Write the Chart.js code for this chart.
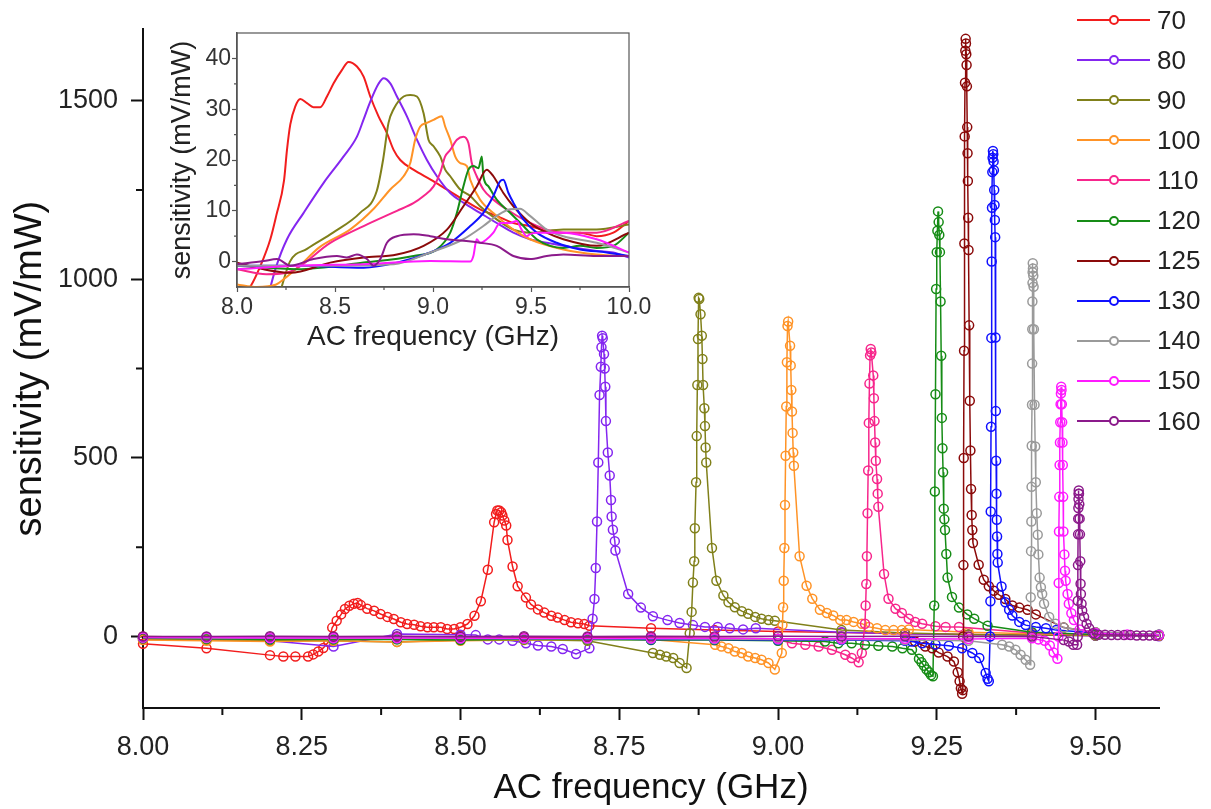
<!DOCTYPE html>
<html>
<head>
<meta charset="utf-8">
<script src="https://cdn.jsdelivr.net/npm/chart.js@4.4.0/dist/chart.umd.min.js"></script>
<style>
  body { margin: 0; background: #fff; }
  #wrap { position: relative; width: 1211px; height: 809px; font-family: "Liberation Sans", Arial, sans-serif; }
  #mainBox { position: absolute; left: 0; top: 0; width: 1211px; height: 809px; }
  #insetBox { position: absolute; left: 150px; top: 10px; width: 530px; height: 360px; }
  #legend { position: absolute; left: 1077px; top: 0; width: 134px; height: 450px; }
  .item { position: absolute; left: 0; height: 26px; display: flex; align-items: center; white-space: nowrap; }
  .swatch { position: relative; display: inline-block; width: 73px; height: 2px; }
  .swatch i { position: absolute; left: 32px; top: -4px; width: 6px; height: 6px; border: 2px solid; border-radius: 50%; background: #fff; }
  .txt { margin-left: 7px; font-size: 26px; color: #222; }
</style>
</head>
<body>
<div id="wrap">
  <div id="mainBox"><canvas id="main"></canvas></div>
  <div id="insetBox"><canvas id="inset"></canvas></div>
  <div id="legend"></div>
</div>
<script>
// series names (legend) and colours
const seriesNames = ["70", "80", "90", "100", "110", "120", "125", "130", "140", "150", "160"];
const seriesColors = ["#f21d1d", "#8426f0", "#80801a", "#ff9326", "#f7268c", "#168c16", "#8b0a0a", "#1010ff", "#9a9a9a", "#ff1aff", "#8b1a8b"];

// tick values
const mainXTicks = [8.0, 8.25, 8.5, 8.75, 9.0, 9.25, 9.5];
const mainXMinor = [8.125, 8.375, 8.625, 8.875, 9.125, 9.375];
const mainYTicks = [0, 500, 1000, 1500];
const mainYMinor = [250, 750, 1250];
const insetXTicks = [8.0, 8.5, 9.0, 9.5, 10.0];
const insetXMinor = [8.25, 8.75, 9.25, 9.75];
const insetYTicks = [0, 10, 20, 30, 40];
const insetYMinor = [5, 15, 25, 35];

// main plot: frequency (GHz) / sensitivity (mV/mW)
const f70 = [8.0, 8.1, 8.2, 8.221, 8.24, 8.26, 8.268, 8.276, 8.284, 8.292, 8.298, 8.305, 8.312, 8.318, 8.325, 8.332, 8.338, 8.343, 8.353, 8.364, 8.374, 8.385, 8.395, 8.406, 8.416, 8.427, 8.437, 8.448, 8.458, 8.469, 8.479, 8.49, 8.5, 8.511, 8.522, 8.532, 8.543, 8.553, 8.556, 8.558, 8.561, 8.564, 8.566, 8.569, 8.572, 8.574, 8.582, 8.59, 8.603, 8.611, 8.622, 8.632, 8.643, 8.653, 8.664, 8.674, 8.685, 8.695, 8.703, 8.8, 8.9, 9.0, 9.1, 9.2, 9.3, 9.4, 9.5, 9.6];
const s70 = [-20, -33, -52, -56, -56, -56, -50, -42, -32, -15, 25, 44, 62, 77, 86, 92, 94, 88, 78, 72, 63, 55, 49, 40, 35, 33, 29, 26, 26, 26, 21, 21, 26, 35, 58, 99, 187, 320, 343, 353, 353, 348, 339, 325, 311, 270, 196, 141, 109, 90, 76, 67, 58, 53, 46, 40, 37, 35, 30, 23, 18, 14, 11, 8, 6, 4, 3, 2];

const f80 = [8.0, 8.1, 8.2, 8.3, 8.4, 8.5, 8.524, 8.543, 8.561, 8.582, 8.603, 8.622, 8.643, 8.661, 8.682, 8.703, 8.708, 8.711, 8.713, 8.715, 8.717, 8.719, 8.721, 8.722, 8.723, 8.724, 8.726, 8.727, 8.728, 8.729, 8.732, 8.735, 8.737, 8.738, 8.74, 8.743, 8.744, 8.764, 8.784, 8.803, 8.826, 8.845, 8.866, 8.885, 8.905, 8.924, 8.945, 8.965, 9.1, 9.2, 9.3, 9.4, 9.5, 9.6];
const s80 = [-5, -8, -12, -28, 7, 5, 4, -8, -8, -12, -19, -25, -28, -35, -49, -33, 50, 105, 192, 322, 487, 676, 755, 810, 842, 835, 791, 750, 699, 603, 515, 451, 382, 336, 299, 267, 241, 119, 81, 57, 46, 38, 32, 27, 27, 23, 20, 23, 12, 8, 5, 4, 2, 1];

const f90 = [8.0, 8.1, 8.2, 8.3, 8.4, 8.5, 8.6, 8.7, 8.803, 8.814, 8.824, 8.835, 8.845, 8.856, 8.861, 8.864, 8.866, 8.868, 8.869, 8.871, 8.872, 8.873, 8.874, 8.875, 8.876, 8.878, 8.88, 8.881, 8.882, 8.884, 8.885, 8.886, 8.887, 8.896, 8.903, 8.914, 8.922, 8.932, 8.943, 8.953, 8.964, 8.974, 8.985, 8.995, 9.1, 9.2, 9.3, 9.4, 9.5, 9.6];
const s90 = [-8, -10, -12, -12, -15, -10, -8, -12, -46, -51, -56, -60, -74, -88, 9, 69, 151, 211, 303, 432, 561, 704, 833, 948, 945, 902, 842, 777, 704, 639, 589, 529, 487, 248, 156, 115, 96, 82, 71, 64, 55, 50, 46, 44, 18, 10, 6, 4, 3, 2];

const f100 = [8.0, 8.1, 8.2, 8.3, 8.4, 8.5, 8.6, 8.7, 8.8, 8.901, 8.911, 8.922, 8.932, 8.943, 8.953, 8.964, 8.974, 8.985, 8.995, 9.006, 9.007, 9.008, 9.009, 9.01, 9.011, 9.012, 9.013, 9.014, 9.015, 9.016, 9.019, 9.02, 9.021, 9.022, 9.023, 9.024, 9.025, 9.034, 9.045, 9.054, 9.066, 9.077, 9.087, 9.098, 9.108, 9.119, 9.132, 9.143, 9.156, 9.169, 9.182, 9.195, 9.206, 9.3, 9.4, 9.5, 9.6];
const s100 = [-10, -12, -14, -12, -15, -12, -10, -8, -8, -23, -28, -33, -42, -46, -56, -60, -65, -74, -92, -46, 32, 82, 156, 248, 368, 506, 644, 768, 869, 882, 814, 759, 690, 630, 570, 515, 478, 225, 142, 106, 75, 66, 59, 46, 46, 41, 36, 27, 23, 18, 18, 18, 20, 12, 8, 5, 3];

const f110 = [8.0, 8.1, 8.2, 8.3, 8.4, 8.5, 8.6, 8.7, 8.8, 8.9, 9.0, 9.022, 9.043, 9.064, 9.085, 9.106, 9.116, 9.127, 9.132, 9.137, 9.138, 9.139, 9.14, 9.141, 9.142, 9.143, 9.144, 9.145, 9.146, 9.147, 9.15, 9.151, 9.152, 9.153, 9.154, 9.156, 9.157, 9.158, 9.167, 9.174, 9.185, 9.195, 9.206, 9.216, 9.227, 9.248, 9.264, 9.285, 9.4, 9.5, 9.6];
const s110 = [-5, -5, -6, -5, -6, -5, -5, -4, -5, -6, -8, -19, -23, -28, -37, -51, -60, -72, -46, 36, 87, 147, 225, 345, 465, 598, 708, 787, 805, 795, 731, 667, 603, 543, 492, 441, 400, 363, 175, 106, 78, 66, 50, 41, 36, 29, 27, 27, 10, 6, 4];

const f120 = [8.0, 8.1, 8.2, 8.3, 8.4, 8.5, 8.6, 8.7, 8.8, 8.9, 9.0, 9.074, 9.095, 9.116, 9.137, 9.158, 9.18, 9.196, 9.211, 9.222, 9.226, 9.23, 9.234, 9.238, 9.241, 9.244, 9.246, 9.247, 9.248, 9.249, 9.25, 9.251, 9.252, 9.253, 9.254, 9.255, 9.256, 9.257, 9.258, 9.259, 9.26, 9.261, 9.262, 9.263, 9.265, 9.267, 9.274, 9.285, 9.298, 9.309, 9.33, 9.4, 9.5, 9.6];
const s120 = [-5, -6, -8, -8, -8, -10, -8, -8, -10, -10, -12, -14, -19, -19, -23, -26, -28, -33, -37, -62, -72, -82, -92, -100, -108, -111, 87, 406, 678, 973, 1076, 1136, 1190, 1160, 1124, 1076, 938, 786, 612, 527, 460, 358, 328, 298, 231, 165, 111, 81, 62, 50, 30, 12, 6, 4];

const f125 = [8.0, 8.1, 8.2, 8.3, 8.4, 8.5, 8.6, 8.7, 8.8, 8.9, 9.0, 9.1, 9.2, 9.216, 9.232, 9.243, 9.253, 9.267, 9.277, 9.283, 9.286, 9.288, 9.29, 9.291, 9.2915, 9.292, 9.2925, 9.293, 9.2935, 9.294, 9.2945, 9.295, 9.2955, 9.296, 9.2965, 9.297, 9.2975, 9.298, 9.2985, 9.299, 9.2995, 9.3, 9.301, 9.302, 9.303, 9.304, 9.305, 9.306, 9.307, 9.316, 9.324, 9.332, 9.34, 9.348, 9.358, 9.369, 9.38, 9.393, 9.406, 9.45, 9.5, 9.6];
const s125 = [0, -2, -3, -2, -3, -2, -3, -3, -4, -5, -6, -8, -10, -14, -28, -33, -45, -56, -70, -100, -125, -145, -160, -150, 0, 200, 500, 800, 1100, 1400, 1550, 1640, 1673, 1660, 1630, 1600, 1540, 1426, 1353, 1275, 1172, 1082, 871, 660, 521, 413, 340, 298, 262, 201, 159, 141, 128, 117, 105, 87, 81, 75, 62, 25, 12, 5];

const f130 = [8.0, 8.1, 8.2, 8.3, 8.4, 8.5, 8.6, 8.7, 8.8, 8.9, 9.0, 9.1, 9.2, 9.211, 9.227, 9.248, 9.269, 9.29, 9.306, 9.317, 9.327, 9.33, 9.332, 9.334, 9.3345, 9.335, 9.3355, 9.336, 9.3365, 9.337, 9.3375, 9.338, 9.3385, 9.339, 9.3395, 9.34, 9.3405, 9.341, 9.3415, 9.342, 9.3425, 9.343, 9.3435, 9.344, 9.3445, 9.345, 9.3455, 9.346, 9.352, 9.358, 9.364, 9.369, 9.38, 9.39, 9.406, 9.422, 9.438, 9.5, 9.6];
const s130 = [-3, -3, -5, -5, -5, -5, -6, -6, -8, -8, -10, -10, -12, -14, -19, -22, -26, -33, -46, -60, -102, -118, -125, 0, 99, 350, 587, 836, 1050, 1200, 1300, 1340, 1359, 1350, 1330, 1305, 1250, 1208, 1166, 1118, 837, 631, 492, 400, 327, 280, 231, 207, 140, 96, 75, 59, 41, 32, 27, 23, 18, 10, 5];

const f140 = [8.0, 8.1, 8.2, 8.3, 8.4, 8.5, 8.6, 8.7, 8.8, 8.9, 9.0, 9.1, 9.2, 9.3, 9.353, 9.364, 9.374, 9.382, 9.39, 9.397, 9.398, 9.3985, 9.399, 9.3993, 9.3996, 9.4, 9.4002, 9.4004, 9.4006, 9.4008, 9.401, 9.4012, 9.4015, 9.402, 9.4025, 9.403, 9.404, 9.405, 9.406, 9.4075, 9.409, 9.41, 9.412, 9.414, 9.416, 9.419, 9.427, 9.437, 9.45, 9.5, 9.6];
const s140 = [-3, -4, -4, -5, -5, -5, -6, -6, -6, -7, -8, -8, -10, -12, -23, -28, -37, -51, -65, -79, 110, 239, 322, 419, 534, 649, 764, 860, 938, 990, 1020, 1045, 1030, 1010, 979, 860, 649, 532, 432, 345, 285, 230, 165, 138, 119, 92, 55, 36, 25, 12, 6];

const f150 = [8.0, 8.1, 8.2, 8.3, 8.4, 8.5, 8.6, 8.7, 8.8, 8.9, 9.0, 9.1, 9.2, 9.3, 9.4, 9.41, 9.42, 9.428, 9.434, 9.44, 9.4415, 9.442, 9.4425, 9.443, 9.4435, 9.444, 9.4445, 9.445, 9.4455, 9.446, 9.4465, 9.447, 9.4475, 9.448, 9.4485, 9.449, 9.4495, 9.451, 9.452, 9.453, 9.456, 9.458, 9.462, 9.466, 9.475, 9.5, 9.55, 9.6];
const s150 = [-3, -3, -4, -4, -4, -5, -5, -5, -5, -5, -6, -6, -6, -7, -5, -8, -12, -25, -45, -62, 0, 150, 294, 391, 480, 543, 600, 650, 680, 699, 690, 650, 600, 543, 480, 391, 294, 230, 184, 156, 119, 92, 65, 46, 20, 10, 6, 4];

const f160 = [8.0, 8.1, 8.2, 8.3, 8.4, 8.5, 8.6, 8.7, 8.8, 8.9, 9.0, 9.1, 9.2, 9.3, 9.4, 9.45, 9.458, 9.465, 9.471, 9.472, 9.4722, 9.4724, 9.4726, 9.4728, 9.473, 9.4732, 9.4734, 9.4736, 9.474, 9.4745, 9.475, 9.4755, 9.476, 9.4765, 9.477, 9.478, 9.479, 9.482, 9.486, 9.49, 9.496, 9.505, 9.515, 9.525, 9.535, 9.545, 9.555, 9.565, 9.575, 9.585, 9.595];
const s160 = [0, 0, 1, 0, 1, 0, 1, 0, 1, 0, 1, 0, 1, 0, 0, -10, -14, -23, -23, 0, 100, 200, 286, 330, 360, 385, 400, 409, 400, 370, 330, 286, 211, 148, 119, 92, 73, 55, 36, 23, 9, 5, 5, 4, 4, 4, 4, 3, 3, 3, 2];

// inset: smoothed curves
const xi70 = [8.04, 8.07, 8.12, 8.17, 8.2, 8.24, 8.255, 8.272, 8.297, 8.323, 8.357, 8.39, 8.425, 8.459, 8.493, 8.535, 8.569, 8.612, 8.646, 8.68, 8.722, 8.765, 8.799, 8.833, 8.9, 8.99, 9.07, 9.155, 9.24, 9.325, 9.41, 9.495, 9.58, 9.665, 9.75, 9.835, 9.92, 10.0];
const yi70 = [-6, -4.8, -0.8, 4.4, 9, 16, 22, 27, 30.5, 32, 31.2, 30.4, 30.4, 32.5, 35.1, 37.7, 39.3, 38.4, 36.4, 32.5, 28.6, 25.3, 22, 20, 18.1, 16.1, 14.2, 12.2, 10.3, 9, 7.6, 7, 6, 5.7, 5.7, 5, 5.7, 8];
const xi80 = [8.15, 8.2, 8.255, 8.34, 8.442, 8.544, 8.612, 8.646, 8.68, 8.722, 8.748, 8.782, 8.816, 8.867, 8.918, 8.969, 9.02, 9.088, 9.155, 9.24, 9.325, 9.41, 9.495, 9.58, 9.665, 9.835, 9.92, 10.0];
const yi80 = [-8, -1, 4.4, 9.6, 15.5, 20.7, 24.6, 28, 31.5, 35, 36.1, 35.1, 32.5, 28.6, 24, 20, 16.8, 13.5, 11.6, 9.6, 7.6, 5.7, 4.4, 3.7, 3.1, 2.1, 1.8, 0.8];
const xi90 = [8.22, 8.27, 8.357, 8.49, 8.628, 8.713, 8.746, 8.773, 8.8, 8.85, 8.884, 8.918, 8.952, 8.977, 9.003, 9.037, 9.062, 9.088, 9.139, 9.19, 9.24, 9.325, 9.41, 9.495, 9.665, 9.835, 10.0];
const yi90 = [-6, 0, 2.5, 5.7, 9.6, 13.9, 20.2, 27.3, 30.1, 32.5, 32.8, 32.5, 29.2, 24, 22.7, 20.7, 18.1, 16.8, 14.2, 12.9, 10.9, 8.3, 6.3, 5.7, 6.3, 6.3, 7.3];
const xi100 = [8.0, 8.1, 8.2, 8.24, 8.32, 8.42, 8.58, 8.7, 8.782, 8.85, 8.884, 8.909, 8.935, 8.969, 9.003, 9.045, 9.062, 9.088, 9.113, 9.139, 9.173, 9.19, 9.24, 9.325, 9.41, 9.495, 9.665, 9.835, 10.0];
const yi100 = [-4.5, -5, -4.5, -3.4, -0.8, 2.8, 6.4, 10.5, 14.2, 16.8, 19.4, 24, 26.6, 27.3, 27.9, 28.6, 26.6, 24, 20.7, 19.4, 18.8, 16.1, 12.2, 9, 6.3, 4.4, 2.4, 1.4, 1.1];
const xi110 = [8.0, 8.15, 8.27, 8.476, 8.646, 8.816, 8.9, 8.952, 9.003, 9.037, 9.062, 9.088, 9.122, 9.155, 9.181, 9.198, 9.223, 9.257, 9.308, 9.376, 9.461, 9.58, 9.665, 9.835, 10.0];
const yi110 = [-1.5, -2.5, -2, 3.7, 7, 10, 11.5, 12.9, 14.8, 17.5, 20.7, 22, 24, 24.6, 23.3, 19.4, 16.8, 14.2, 12.2, 10.3, 8.3, 6.3, 5.7, 5.7, 8];
const xi120 = [8.0, 8.306, 8.646, 8.901, 9.02, 9.088, 9.122, 9.155, 9.181, 9.206, 9.232, 9.249, 9.257, 9.283, 9.325, 9.393, 9.461, 9.529, 9.597, 9.665, 9.75, 9.835, 9.92, 10.0];
const yi120 = [-0.8, -1.5, -0.2, 1.1, 2.4, 5.7, 9.6, 14.8, 18.1, 18.8, 18.4, 20.7, 16.8, 14.8, 12.2, 9.6, 7, 4.4, 3.1, 2.7, 3.1, 2.7, 3.1, 5.7];
const xi125 = [8.0, 8.136, 8.272, 8.476, 8.646, 8.816, 8.952, 9.071, 9.155, 9.223, 9.274, 9.308, 9.359, 9.41, 9.495, 9.58, 9.665, 9.835, 10.0];
const yi125 = [-0.2, -1.5, -2.2, -0.2, 0.8, 1.4, 3.1, 6.3, 10.9, 14.8, 18.1, 16.8, 13.5, 10.9, 7.6, 5.7, 4.4, 3.1, 5.7];
const xi130 = [8.0, 8.306, 8.646, 8.816, 8.986, 9.088, 9.19, 9.257, 9.308, 9.342, 9.359, 9.385, 9.41, 9.461, 9.529, 9.631, 9.75, 9.886, 10.0];
const yi130 = [-0.8, -0.8, -1.2, -0.2, 1.8, 3.7, 7, 9.6, 12.9, 15.8, 16.1, 13.5, 11.6, 8.3, 5.7, 3.7, 2.4, 1.8, 1.1];
const xi140 = [8.0, 8.4, 8.8, 8.986, 9.155, 9.257, 9.325, 9.393, 9.444, 9.495, 9.58, 9.665, 9.835, 10.0];
const yi140 = [-0.8, -0.8, -0.5, 1.8, 4.4, 7, 9, 10.3, 10.4, 9, 6.3, 5, 3.7, 1.8];
const xi150 = [8.0, 8.306, 8.646, 8.986, 9.19, 9.206, 9.223, 9.24, 9.274, 9.308, 9.342, 9.393, 9.427, 9.452, 9.478, 9.495, 9.53, 9.665, 9.835, 10.0];
const yi150 = [-1.5, -0.8, -0.5, 0.1, 0, 1.1, 4.4, 3.7, 4.4, 5.7, 7.6, 7.6, 8, 6.3, 5, 5.4, 5.7, 5.7, 4.4, 1.8];
const xi160 = [8.0, 8.136, 8.204, 8.272, 8.39, 8.51, 8.56, 8.612, 8.663, 8.697, 8.731, 8.765, 8.816, 8.901, 8.986, 9.071, 9.155, 9.24, 9.325, 9.41, 9.495, 9.58, 9.665, 9.835, 10.0];
const yi160 = [-0.5, 0.1, 0.5, -0.8, 0.5, 1.1, 0.8, 1.4, 0.5, -0.8, 0.5, 3.7, 5, 5.4, 5, 4.4, 4.1, 3.7, 3.1, 1.1, 0.5, 1.1, 1.4, 1.1, 1.1];

const mainFreqs = [f70, f80, f90, f100, f110, f120, f125, f130, f140, f150, f160];
const mainSens = [s70, s80, s90, s100, s110, s120, s125, s130, s140, s150, s160];
const insetFreqs = [xi70, xi80, xi90, xi100, xi110, xi120, xi125, xi130, xi140, xi150, xi160];
const insetSens = [yi70, yi80, yi90, yi100, yi110, yi120, yi125, yi130, yi140, yi150, yi160];

const FONT = '"Liberation Sans", Arial, sans-serif';
Chart.defaults.font.family = FONT;
Chart.defaults.color = "#222";

const zip = (xs, ys) => xs.map((x, k) => ({ x: x, y: ys[k] }));

// short minor tick marks, plus an optional box round the plot area
const minorTicks = {
  id: "minorTicks",
  afterDraw(chart, args, opts) {
    const { ctx, chartArea, scales } = chart;
    ctx.save();
    ctx.strokeStyle = opts.color;
    ctx.lineWidth = opts.width;
    if (opts.frame) {
      ctx.strokeRect(chartArea.left, chartArea.top, chartArea.right - chartArea.left, chartArea.bottom - chartArea.top);
    }
    ctx.beginPath();
    opts.x.forEach((v) => {
      const px = scales.x.getPixelForValue(v);
      ctx.moveTo(px, chartArea.bottom);
      ctx.lineTo(px, chartArea.bottom + opts.len);
    });
    opts.y.forEach((v) => {
      const py = scales.y.getPixelForValue(v);
      ctx.moveTo(chartArea.left, py);
      ctx.lineTo(chartArea.left - opts.len, py);
    });
    ctx.stroke();
    ctx.restore();
  },
};

const mainChart = new Chart(document.getElementById("main"), {
  type: "scatter",
  data: {
    datasets: mainFreqs.map((f, i) => ({
      label: seriesNames[i],
      data: zip(f, mainSens[i]),
      showLine: true,
      borderColor: seriesColors[i],
      backgroundColor: "rgba(255,255,255,0)",
      borderWidth: 1.5,
      pointRadius: 4.5,
      pointBorderWidth: 1.5,
      pointBorderColor: seriesColors[i],
      pointBackgroundColor: "rgba(255,255,255,0)",
      order: 10 - i,
      clip: 8,
    })),
  },
  options: {
    responsive: true,
    maintainAspectRatio: false,
    animation: false,
    layout: { padding: { top: 20, right: 52, left: 0, bottom: 0 } },
    plugins: {
      legend: { display: false },
      tooltip: { enabled: false },
      minorTicks: { x: mainXMinor, y: mainYMinor, len: 7, width: 2, color: "#111", frame: false },
    },
    scales: {
      x: {
        type: "linear",
        min: 8,
        max: 9.6,
        afterBuildTicks: (s) => { s.ticks = mainXTicks.map((v) => ({ value: v })); },
        afterFit: (s) => { s.height = 101; },
        ticks: { callback: (v) => Number(v).toFixed(2), font: { size: 27 }, color: "#222", padding: 11, maxRotation: 0, autoSkip: false },
        grid: { drawOnChartArea: false, drawTicks: true, tickLength: 12, tickWidth: 2, tickColor: "#111" },
        border: { display: true, color: "#111", width: 2 },
        title: { display: true, text: "AC frequency (GHz)", font: { size: 35 }, color: "#111", padding: { top: 0, bottom: 0 } },
      },
      y: {
        type: "linear",
        min: -200,
        max: 1700,
        afterBuildTicks: (s) => { s.ticks = mainYTicks.map((v) => ({ value: v })); },
        afterFit: (s) => { s.width = 143; },
        ticks: { callback: (v) => String(v), font: { size: 27 }, color: "#222", padding: 13 },
        grid: { drawOnChartArea: false, drawTicks: true, tickLength: 12, tickWidth: 2, tickColor: "#111" },
        border: { display: true, color: "#111", width: 2 },
        title: { display: true, text: "sensitivity (mV/mW)", font: { size: 38 }, color: "#111", padding: { top: 8, bottom: 0 } },
      },
    },
  },
  plugins: [minorTicks],
});

const insetChart = new Chart(document.getElementById("inset"), {
  type: "scatter",
  data: {
    datasets: insetFreqs.map((f, i) => ({
      label: seriesNames[i],
      data: zip(f, insetSens[i]),
      showLine: true,
      borderColor: seriesColors[i],
      borderWidth: 2,
      pointRadius: 0,
      cubicInterpolationMode: "monotone",
      order: 10 - i,
    })),
  },
  options: {
    responsive: true,
    maintainAspectRatio: false,
    animation: false,
    layout: { padding: { top: 23, right: 51, left: 0, bottom: 0 } },
    plugins: {
      legend: { display: false },
      tooltip: { enabled: false },
      minorTicks: { x: insetXMinor, y: insetYMinor, len: 3, width: 1.2, color: "#555", frame: true },
    },
    scales: {
      x: {
        type: "linear",
        min: 8,
        max: 10,
        afterBuildTicks: (s) => { s.ticks = insetXTicks.map((v) => ({ value: v })); },
        afterFit: (s) => { s.height = 83; },
        ticks: { callback: (v) => Number(v).toFixed(1), font: { size: 23 }, color: "#333", padding: 2, maxRotation: 0, autoSkip: false },
        grid: { drawOnChartArea: false, drawTicks: true, tickLength: 5, tickWidth: 1.2, tickColor: "#555" },
        border: { display: true, color: "#555", width: 1.5 },
        title: { display: true, text: "AC frequency (GHz)", font: { size: 28 }, color: "#222", padding: { top: 0, bottom: 16 } },
      },
      y: {
        type: "linear",
        min: -5,
        max: 45,
        afterBuildTicks: (s) => { s.ticks = insetYTicks.map((v) => ({ value: v })); },
        afterFit: (s) => { s.width = 87; },
        ticks: { callback: (v) => String(v), font: { size: 23 }, color: "#333", padding: 1 },
        grid: { drawOnChartArea: false, drawTicks: true, tickLength: 5, tickWidth: 1.2, tickColor: "#555" },
        border: { display: true, color: "#555", width: 1.5 },
        title: { display: true, text: "sensitivity (mV/mW)", font: { size: 27 }, color: "#222", padding: { top: 16, bottom: 0 } },
      },
    },
  },
  plugins: [minorTicks],
});

// legend: line with a circle, then the label
const legendEl = document.getElementById("legend");
seriesNames.forEach((name, i) => {
  const row = document.createElement("div");
  row.className = "item";
  row.style.top = (7 + i * 40.1) + "px";
  const c = seriesColors[i];
  row.innerHTML = '<span class="swatch" style="background:' + c + '"><i style="border-color:' + c + '"></i></span><span class="txt">' + name + "</span>";
  legendEl.appendChild(row);
});
</script>
</body>
</html>
